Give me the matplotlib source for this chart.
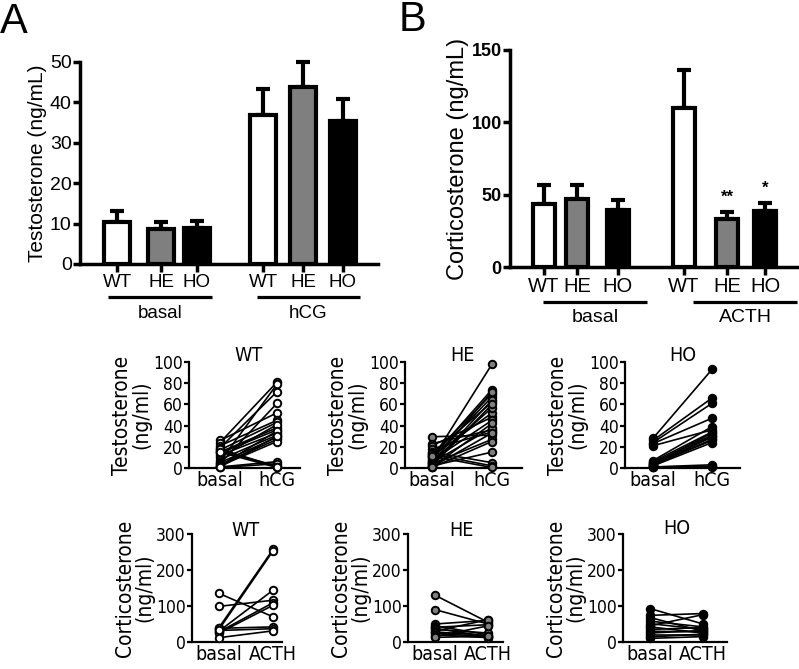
import os
import numpy as np
import matplotlib
matplotlib.use('Agg')
import matplotlib.pyplot as plt
from matplotlib import font_manager
from matplotlib.font_manager import FontProperties
from matplotlib.lines import Line2D

names = {f.name for f in font_manager.fontManager.ttflist}
MAIN = 'Liberation Sans' if 'Liberation Sans' in names else 'DejaVu Sans'
plt.rcParams['font.family'] = [MAIN, 'DejaVu Sans']


def find_condensed():
    fl = font_manager.fontManager.ttflist
    for want in ('Liberation Sans Narrow', 'Arial Narrow'):
        for f in fl:
            b = os.path.basename(f.fname).lower()
            if f.name == want and 'bold' not in b and 'italic' not in b:
                return f.fname
    for f in fl:
        b = os.path.basename(f.fname)
        if ('Condensed' in b or 'Narrow' in b) and 'Sans' in b and 'Mono' not in b \
                and not any(k in b for k in ('Bold', 'Oblique', 'Italic', 'Light', 'Thin', 'Medium', 'Semi', 'Black', 'Extra')):
            return f.fname
    return None


COND = find_condensed()


def sfont(size):
    if COND:
        return FontProperties(fname=COND, size=size)
    return FontProperties(family=MAIN, size=size - 1)


# ---------------- data ----------------
genotypes = ['WT', 'HE', 'HO']
bar_colors = ['white', '#7f7f7f', 'black']

# Panel A: testosterone (ng/mL), basal and hCG
testo_mean = [10.4, 8.6, 9.0, 36.9, 43.9, 35.5]
testo_sem = [2.8, 1.8, 1.7, 6.5, 6.0, 5.4]
# Panel B: corticosterone (ng/mL), basal and ACTH
cort_mean = [43.5, 47.0, 39.4, 110.0, 33.0, 39.0]
cort_sem = [13.2, 9.7, 6.6, 26.0, 5.0, 5.0]
cort_sig = ['', '', '', '', '**', '*']

# Paired testosterone, basal -> hCG
wt_t_basal = [26, 24, 21, 19, 17, 16, 15, 14, 12, 10, 8, 6, 5, 4, 3, 2, 2, 1, 1, 0.5, 18, 15]
wt_t_hcg = [52, 81, 45, 72, 43, 2, 38, 36, 33, 41, 31, 79, 29, 61, 27, 25, 35, 30, 6, 4, 1, 0.5]
he_t_basal = [29.5, 23, 21, 18, 15, 14, 12, 11, 10, 9, 8, 7, 6, 5, 5, 4, 3, 2, 2, 1, 1, 0.5, 13, 11]
he_t_hcg = [31, 36, 48, 34, 5, 62, 70, 52, 74, 67, 98, 45, 57, 72, 38, 27, 64, 15, 60, 42, 33, 25, 2, 0.5]
ho_t_basal = [28, 26, 24, 23, 21, 7, 6, 5, 4, 4, 3, 3, 2, 2, 1, 1, 0.5]
ho_t_hcg = [93, 66, 61, 47, 36, 39, 34, 31, 29, 33, 27, 26, 24, 30, 3, 1.5, 1]

# Paired corticosterone, basal -> ACTH
wt_c_basal = [135, 99, 40, 35, 30, 28, 25, 38, 32, 12]
wt_c_acth = [70, 116, 257, 253, 144, 109, 102, 42, 37, 31]
he_c_basal = [130, 90, 50, 45, 41, 38, 35, 30, 28, 25, 20, 15, 13]
he_c_acth = [55, 50, 60, 20, 48, 15, 25, 62, 18, 14, 12, 45, 16]
ho_c_basal = [93, 74, 68, 58, 51, 45, 42, 35, 30, 25, 20, 14, 10]
ho_c_acth = [50, 79, 30, 42, 35, 76, 25, 40, 28, 32, 20, 22, 15]

# ---------------- layout helpers ----------------
W, H = 799, 669
fig = plt.figure(figsize=(W / 100, H / 100), dpi=100)


def rect(l, t, r, b):
    return [l / W, 1 - b / H, (r - l) / W, (b - t) / H]


def ftext(x, y, s, **kw):
    fig.text(x / W, 1 - y / H, s, **kw)


def fline(x0, x1, y, lw=2.3):
    fig.add_artist(Line2D([x0 / W, x1 / W], [1 - y / H, 1 - y / H],
                          color='k', lw=lw, solid_capstyle='butt'))


def bar_panel(box, pos, means, sems, ylim, yticks, ylabel, width, bold,
              tick_fs, lab_fs, cat_fs, sig=None):
    ax = fig.add_axes(rect(*box))
    lw = 3.0
    ax.errorbar(pos, means, yerr=[np.zeros(len(means)), sems], fmt='none',
                ecolor='k', elinewidth=lw, capsize=4.7, capthick=lw,
                zorder=2, clip_on=False)
    ax.bar(pos, means, width=width, color=bar_colors * 2, edgecolor='k',
           linewidth=lw, zorder=3)
    ax.set_xlim(box[0], box[2])
    ax.set_ylim(*ylim)
    ax.set_yticks(yticks)
    ax.set_xticks(pos)
    ax.set_xticklabels(genotypes * 2, fontsize=cat_fs)
    for s in ['top', 'right']:
        ax.spines[s].set_visible(False)
    for s in ['left', 'bottom']:
        ax.spines[s].set_linewidth(2.5)
    ax.tick_params(axis='y', width=2.5, length=5, labelsize=tick_fs, pad=1)
    ax.tick_params(axis='x', width=2.5, length=6, pad=1)
    if bold:
        for t in ax.get_yticklabels():
            t.set_fontweight('bold')
    ax.set_ylabel(ylabel, fontsize=lab_fs, labelpad=2)
    if sig:
        for p, m, e, s in zip(pos, means, sems, sig):
            if s:
                ax.text(p, m + e + 5, s, ha='center', va='bottom', fontsize=12,
                        fontweight='bold')
    return ax


# Panel A
axA = bar_panel((80, 62, 378, 264), [117, 161, 197, 263, 303, 343],
                testo_mean, testo_sem, (0, 50), range(0, 51, 10),
                'Testosterone (ng/mL)', 26, False, 14, 15, 13.5)
fline(108, 212, 297)
fline(257, 360, 297)
ftext(160, 313, 'basal', ha='center', va='center', fontsize=13.5)
ftext(308, 313, 'hCG', ha='center', va='center', fontsize=13.5)
ftext(14, 22, 'A', ha='center', va='center', fontsize=30)

# Panel B
axB = bar_panel((510, 50, 797, 267), [544, 577, 618, 684, 727, 765],
                cort_mean, cort_sem, (0, 150), [0, 50, 100, 150],
                'Corticosterone (ng/mL)', 22, True, 13, 17, 14.5, cort_sig)
fline(543, 647, 302)
fline(693, 797, 302)
ftext(595, 318, 'basal', ha='center', va='center', fontsize=14)
ftext(745, 318, 'ACTH', ha='center', va='center', fontsize=14)
ftext(412, 20, 'B', ha='center', va='center', fontsize=30)


def pair_panel(l, t, r, b, x0, x1, basal, stim, ylim, yticks, ylabel,
               stimlab, title, fc, title_off=5):
    ax = fig.add_axes(rect(l, t, r, b))
    for a, c in zip(basal, stim):
        ax.plot([0, 1], [a, c], '-o', color='k', lw=1.2, ms=5.4, mfc=fc,
                mec='k', mew=1.4, clip_on=False, zorder=3)
    ax.set_xlim((l - x0) / (x1 - x0), (r - x0) / (x1 - x0))
    ax.set_ylim(*ylim)
    ax.set_yticks(yticks)
    ax.set_xticks([0, 1])
    ax.set_xticklabels(['basal', stimlab], fontproperties=sfont(14))
    for s in ['top', 'right']:
        ax.spines[s].set_visible(False)
    for s in ['left', 'bottom']:
        ax.spines[s].set_linewidth(1.6)
    ax.tick_params(axis='y', width=1.6, length=3.5, pad=1)
    ax.tick_params(axis='x', width=1.6, length=0, pad=2)
    for tl in ax.get_yticklabels():
        tl.set_fontproperties(sfont(12.5))
    ax.set_ylabel(ylabel, fontproperties=sfont(15), linespacing=0.95,
                  labelpad=1)
    ax.annotate(title, xy=(0.5, 1.0), xycoords=('data', 'axes fraction'),
                xytext=(0, title_off * 0.72), textcoords='offset points',
                ha='center', va='center', fontproperties=sfont(14))
    return ax


tl = 'Testosterone\n(ng/ml)'
cl = 'Corticosterone\n(ng/ml)'
pair_panel(189, 362, 300, 468, 220, 277, wt_t_basal, wt_t_hcg, (0, 100),
           range(0, 101, 20), tl, 'hCG', 'WT', 'white', 7)
pair_panel(405, 362, 522, 468, 432, 492, he_t_basal, he_t_hcg, (0, 100),
           range(0, 101, 20), tl, 'hCG', 'HE', '#7f7f7f', 7)
pair_panel(625, 362, 740, 468, 653, 712, ho_t_basal, ho_t_hcg, (0, 100),
           range(0, 101, 20), tl, 'hCG', 'HO', 'black', 7)
pair_panel(192, 534, 282, 642, 219, 273, wt_c_basal, wt_c_acth, (0, 300),
           [0, 100, 200, 300], cl, 'ACTH', 'WT', 'white', 3)
pair_panel(408, 534, 503, 642, 435, 488, he_c_basal, he_c_acth, (0, 300),
           [0, 100, 200, 300], cl, 'ACTH', 'HE', '#7f7f7f', 4)
pair_panel(623, 534, 727, 642, 650, 703, ho_c_basal, ho_c_acth, (0, 300),
           [0, 100, 200, 300], cl, 'ACTH', 'HO', 'black', 6)

fig.savefig('out.png', dpi=100)
